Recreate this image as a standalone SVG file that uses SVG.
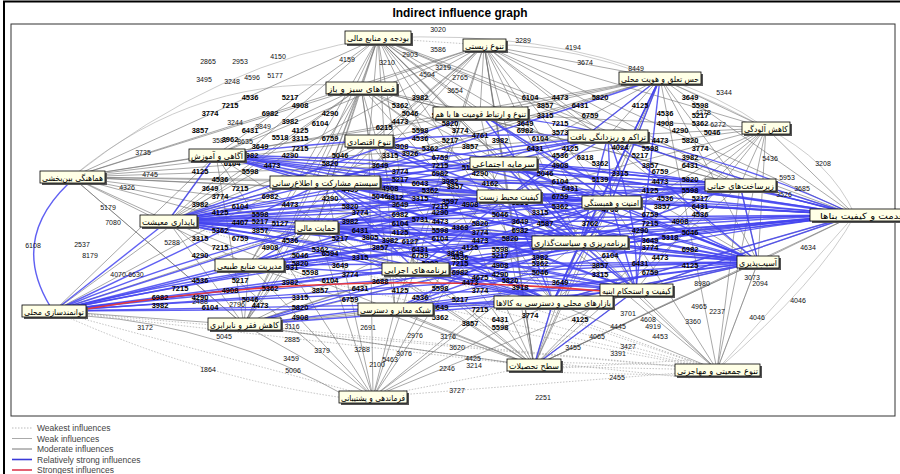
<svg xmlns="http://www.w3.org/2000/svg" width="900" height="474" viewBox="0 0 900 474">
<style>
.m path{stroke:#6e6e6e;stroke-width:.7;fill:none;opacity:.85}
.s path{stroke:#4444f0;stroke-width:1.4;fill:none;opacity:.85}
.r{stroke:#e8383c;stroke-width:1.6;fill:none}
.w path{stroke:#aaa;stroke-width:.7;stroke-dasharray:1.5 1.5;fill:none}
.t path{stroke:#999;stroke-width:.5;fill:none}
.sh{fill:#555}
.bx{fill:#ffffe6;stroke:#000;stroke-width:.8}
.node text{font-family:"DejaVu Sans",sans-serif;font-size:8.5px;text-anchor:middle;fill:#000}
.lb text{font-family:"Liberation Sans",Arial,sans-serif;font-size:7px;fill:#111;text-anchor:middle}
.cl text{font-family:"Liberation Sans",Arial,sans-serif;font-size:7.5px;font-weight:bold;fill:#000;text-anchor:middle}
.lg{font-family:"Liberation Sans",Arial,sans-serif;font-size:8.5px;fill:#444}
</style>
<rect x="0" y="0" width="900" height="474" fill="#fff"/>
<rect x="4" y="1.5" width="905" height="480" fill="none" stroke="#000" stroke-width="2"/>
<text x="460" y="17" font-family="Liberation Sans Narrow,Liberation Sans,Arial,sans-serif" font-size="12" font-weight="bold" text-anchor="middle" textLength="135" lengthAdjust="spacingAndGlyphs">Indirect influence graph</text>
<rect x="11" y="24" width="884" height="392" fill="none" stroke="#333" stroke-width="1"/>
<g id="connectors">
<g class="w">
<path d="M378 38L484 45"/><path d="M717 370L534 366"/><path d="M717 370L373 397"/><path d="M534 366L373 397"/><path d="M717 370L395 309"/><path d="M717 370L244 325"/><path d="M534 366L244 325"/><path d="M717 370L249 265"/><path d="M717 370L168 221"/><path d="M54 311Q206 381 360 400"/><path d="M534 362L717 366"/><path d="M534 372L717 376"/><path d="M560 368L690 360"/><path d="M560 364L690 378"/><path d="M717 370L54 311"/><path d="M534 366L54 311"/><path d="M373 397L54 311"/><path d="M717 370L415 269"/><path d="M717 370L316 227"/>
</g>
<g class="t">
<path d="M660 78Q720 95 766 128"/><path d="M766 128Q830 160 855 215"/><path d="M855 215Q820 280 717 370"/><path d="M758 262L717 370"/><path d="M855 215L717 370"/><path d="M484 45Q600 40 766 128"/><path d="M378 38Q550 30 660 78"/><path d="M361 87Q200 70 72 177"/><path d="M378 38Q220 60 72 177"/>
</g>
<g class="m">
<path d="M378 38L361 87"/><path d="M378 38L369 141"/><path d="M378 38L216 155"/><path d="M378 38L325 182"/><path d="M378 38L168 221"/><path d="M378 38L316 227"/><path d="M378 38L249 265"/><path d="M378 38L415 269"/><path d="M378 38L395 309"/><path d="M378 38L244 325"/><path d="M378 38L509 196"/><path d="M378 38L503 163"/><path d="M378 38L480 113"/><path d="M378 38L611 202"/><path d="M378 38L580 242"/><path d="M378 38L636 290"/><path d="M378 38L553 302"/><path d="M378 38L72 177"/><path d="M378 38L740 185"/><path d="M378 38L608 136"/><path d="M378 38L758 262"/><path d="M378 38L855 215"/><path d="M378 38L534 366"/>
<path d="M484 45L361 87"/><path d="M484 45L369 141"/><path d="M484 45L216 155"/><path d="M484 45L503 163"/><path d="M484 45L480 113"/><path d="M484 45L325 182"/><path d="M484 45L509 196"/><path d="M484 45L611 202"/><path d="M484 45L580 242"/><path d="M484 45L415 269"/><path d="M484 45L553 302"/><path d="M484 45L534 366"/><path d="M484 45L608 136"/><path d="M484 45L660 78"/><path d="M484 45L740 185"/><path d="M484 45L855 215"/><path d="M484 45L766 128"/><path d="M484 45L758 262"/><path d="M484 45L636 290"/><path d="M484 45L168 221"/><path d="M484 45L316 227"/><path d="M484 45L249 265"/><path d="M484 45L72 177"/><path d="M484 45L395 309"/>
<path d="M660 78L766 128"/><path d="M660 78L740 185"/><path d="M660 78L855 215"/><path d="M660 78L758 262"/><path d="M660 78L608 136"/><path d="M660 78L611 202"/><path d="M660 78L509 196"/><path d="M660 78L503 163"/><path d="M660 78L480 113"/><path d="M660 78L553 302"/><path d="M660 78L534 366"/><path d="M660 78L717 370"/><path d="M660 78L369 141"/><path d="M660 78L325 182"/><path d="M660 78L216 155"/><path d="M660 78L168 221"/>
<path d="M361 87L216 155"/><path d="M361 87L72 177"/><path d="M361 87L168 221"/><path d="M361 87L325 182"/><path d="M361 87L316 227"/><path d="M361 87L249 265"/><path d="M361 87L244 325"/><path d="M361 87L395 309"/><path d="M361 87L369 141"/><path d="M361 87L415 269"/><path d="M361 87L54 311"/><path d="M361 87L480 113"/><path d="M361 87L503 163"/><path d="M361 87L509 196"/><path d="M361 87L611 202"/><path d="M361 87L580 242"/><path d="M361 87L553 302"/><path d="M361 87L740 185"/><path d="M361 87L855 215"/>
<path d="M766 128L855 215"/><path d="M766 128L758 262"/><path d="M766 128L740 185"/><path d="M766 128L717 370"/><path d="M766 128L636 290"/><path d="M766 128L580 242"/><path d="M766 128L611 202"/><path d="M766 128L608 136"/><path d="M766 128L509 196"/><path d="M766 128L553 302"/><path d="M766 128L503 163"/><path d="M766 128L480 113"/><path d="M766 128L534 366"/>
<path d="M72 177L216 155"/><path d="M72 177L325 182"/><path d="M72 177L168 221"/><path d="M72 177L316 227"/><path d="M72 177L369 141"/><path d="M72 177L509 196"/><path d="M72 177L503 163"/><path d="M72 177L480 113"/><path d="M72 177L611 202"/><path d="M72 177L580 242"/><path d="M72 177L415 269"/><path d="M72 177L608 136"/><path d="M72 177L740 185"/><path d="M72 177L249 265"/><path d="M72 177L244 325"/>
<path d="M855 215L758 262"/><path d="M855 215L636 290"/><path d="M855 215L580 242"/><path d="M855 215L611 202"/><path d="M855 215L534 366"/><path d="M855 215L553 302"/><path d="M855 215L608 136"/><path d="M855 215L509 196"/>
<path d="M758 262L636 290"/><path d="M758 262L534 366"/><path d="M758 262L553 302"/><path d="M758 262L580 242"/><path d="M758 262L740 185"/>
<path d="M534 366L395 309"/><path d="M534 366L244 325"/><path d="M534 366L249 265"/><path d="M534 366L415 269"/><path d="M534 366L553 302"/><path d="M534 366L636 290"/><path d="M534 366L580 242"/><path d="M534 366L316 227"/><path d="M534 366L325 182"/><path d="M534 366L509 196"/><path d="M534 366L503 163"/><path d="M534 366L480 113"/><path d="M534 366L611 202"/><path d="M534 366L168 221"/><path d="M534 366L740 185"/><path d="M534 366L758 262"/><path d="M534 366L216 155"/><path d="M534 366L369 141"/>
<path d="M717 370L636 290"/><path d="M717 370L553 302"/><path d="M717 370L758 262"/><path d="M717 370L740 185"/><path d="M717 370L580 242"/><path d="M717 370L611 202"/><path d="M717 370L509 196"/>
<path d="M373 397L244 325"/><path d="M373 397L395 309"/><path d="M373 397L249 265"/><path d="M373 397L415 269"/><path d="M373 397L316 227"/><path d="M373 397L325 182"/><path d="M373 397L168 221"/><path d="M373 397L553 302"/><path d="M373 397L636 290"/><path d="M373 397L580 242"/><path d="M373 397L509 196"/><path d="M373 397L369 141"/><path d="M373 397L216 155"/><path d="M373 397L503 163"/><path d="M373 397L611 202"/>
<path d="M244 325L249 265"/><path d="M244 325L168 221"/><path d="M244 325L316 227"/><path d="M244 325L325 182"/><path d="M244 325L216 155"/><path d="M244 325L72 177"/><path d="M244 325L395 309"/><path d="M244 325L415 269"/><path d="M244 325L636 290"/><path d="M244 325L369 141"/><path d="M244 325L509 196"/><path d="M244 325L580 242"/><path d="M244 325L611 202"/>
<path d="M54 311L244 325"/><path d="M54 311L216 155"/><path d="M54 311L369 141"/><path d="M54 311L503 163"/><path d="M86 316Q220 325 350 398"/>
<path d="M168 221L216 155"/><path d="M168 221L369 141"/>
</g>
<g class="s">
<path d="M168 221L325 182"/><path d="M168 221L316 227"/><path d="M168 221L509 196"/><path d="M168 221L611 202"/><path d="M168 221L580 242"/><path d="M168 221L740 185"/><path d="M168 221L855 215"/><path d="M168 221L758 262"/><path d="M168 221L636 290"/><path d="M168 221L553 302"/><path d="M168 221L415 269"/><path d="M168 221L503 163"/><path d="M168 221L608 136"/><path d="M168 221L480 113"/><path d="M168 221L216 155"/>
<path d="M325 182L509 196"/><path d="M325 182L611 202"/><path d="M325 182L580 242"/><path d="M325 182L503 163"/><path d="M325 182L608 136"/><path d="M325 182L740 185"/><path d="M325 182L855 215"/><path d="M325 182L758 262"/><path d="M325 182L636 290"/><path d="M325 182L553 302"/><path d="M325 182L415 269"/>
<path d="M316 227L509 196"/><path d="M316 227L611 202"/><path d="M316 227L580 242"/><path d="M316 227L740 185"/><path d="M316 227L855 215"/><path d="M316 227L758 262"/><path d="M316 227L636 290"/><path d="M316 227L553 302"/><path d="M316 227L503 163"/>
<path d="M509 196L611 202"/><path d="M509 196L580 242"/><path d="M509 196L740 185"/><path d="M509 196L855 215"/><path d="M509 196L758 262"/><path d="M509 196L636 290"/><path d="M509 196L553 302"/><path d="M509 196L608 136"/><path d="M509 196L660 78"/>
<path d="M611 202L580 242"/><path d="M611 202L740 185"/><path d="M611 202L855 215"/><path d="M611 202L758 262"/><path d="M611 202L636 290"/><path d="M611 202L553 302"/><path d="M611 202L660 78"/>
<path d="M580 242L740 185"/><path d="M580 242L855 215"/><path d="M580 242L758 262"/><path d="M580 242L636 290"/><path d="M580 242L553 302"/>
<path d="M503 163L611 202"/><path d="M503 163L580 242"/><path d="M503 163L740 185"/><path d="M503 163L855 215"/><path d="M503 163L758 262"/><path d="M503 163L608 136"/>
<path d="M740 185L855 215"/><path d="M740 185L758 262"/>
<path d="M415 269L580 242"/><path d="M415 269L611 202"/><path d="M415 269L855 215"/><path d="M415 269L758 262"/><path d="M415 269L636 290"/><path d="M415 269L553 302"/><path d="M415 269L509 196"/>
<path d="M249 265L316 227"/><path d="M249 265L509 196"/><path d="M249 265L580 242"/><path d="M249 265L855 215"/><path d="M249 265L758 262"/><path d="M249 265L636 290"/><path d="M249 265L611 202"/>
<path d="M395 309L580 242"/><path d="M395 309L636 290"/><path d="M395 309L758 262"/><path d="M395 309L553 302"/><path d="M395 309L611 202"/>
<path d="M244 325L758 262"/><path d="M244 325L553 302"/>
<path d="M54 311L168 221"/><path d="M54 311L325 182"/><path d="M54 311L316 227"/><path d="M54 311L509 196"/><path d="M54 311L580 242"/><path d="M54 311L415 269"/><path d="M54 311L395 309"/><path d="M54 311L249 265"/><path d="M54 311L553 302"/><path d="M54 311L855 215"/><path d="M54 311L758 262"/><path d="M54 311L611 202"/><path d="M50 306Q10 240 68 184"/>
<path d="M216 155L509 196"/><path d="M216 155L611 202"/><path d="M216 155L580 242"/><path d="M216 155L855 215"/><path d="M216 155L758 262"/><path d="M216 155L740 185"/><path d="M216 155L325 182"/>
<path d="M660 78L580 242"/><path d="M660 78L636 290"/>
<path d="M608 136L580 242"/><path d="M608 136L611 202"/><path d="M608 136L758 262"/><path d="M608 136L855 215"/>
<path d="M553 302L855 215"/><path d="M553 302L758 262"/><path d="M636 290L855 215"/><path d="M636 290L758 262"/>
<path d="M534 366L553 302"/><path d="M534 366L636 290"/>
<path d="M480 113L611 202"/><path d="M480 113L580 242"/><path d="M369 141L509 196"/><path d="M369 141L580 242"/><path d="M369 141L611 202"/>
<path d="M168 221Q500 180 855 215"/><path d="M168 221Q500 250 855 215"/><path d="M168 221Q460 220 758 262"/><path d="M325 182Q600 170 855 215"/><path d="M325 182Q560 200 758 262"/><path d="M316 227Q540 230 758 262"/><path d="M54 311Q450 230 855 215"/><path d="M54 311Q420 270 758 262"/><path d="M54 311Q300 250 580 242"/><path d="M216 155Q540 160 855 215"/><path d="M249 265Q560 220 855 215"/><path d="M415 269Q650 230 855 215"/><path d="M168 221Q420 240 636 290"/><path d="M325 182Q430 250 553 302"/><path d="M316 227Q440 250 553 302"/><path d="M216 155Q400 180 580 242"/><path d="M216 155Q420 210 636 290"/><path d="M503 163Q600 210 636 290"/><path d="M480 113Q700 140 855 215"/><path d="M660 78Q600 200 553 302"/><path d="M608 136Q640 220 636 290"/><path d="M509 196Q640 210 758 262"/><path d="M168 221Q380 210 580 242"/><path d="M168 221Q400 190 611 202"/><path d="M168 221Q340 190 509 196"/><path d="M54 311Q270 220 509 196"/><path d="M54 311Q340 290 636 290"/><path d="M249 265Q420 240 580 242"/><path d="M395 309Q640 240 855 215"/><path d="M244 325Q420 270 580 242"/><path d="M244 325Q560 240 855 215"/><path d="M168 221Q360 160 608 136"/><path d="M216 155Q420 130 608 136"/><path d="M325 182Q480 140 660 78"/><path d="M168 221Q330 240 553 302"/><path d="M369 141Q560 170 740 185"/><path d="M480 113Q600 190 758 262"/><path d="M503 163Q700 170 855 215"/><path d="M415 269Q560 200 740 185"/><path d="M249 265Q450 190 611 202"/>
</g>
<path class="r" d="M86 309Q330 268 602 291"/>
</g>
<g id="edge-labels" class="lb">
<text x="438" y="32">3020</text><text x="523" y="43">3289</text><text x="573" y="50">4194</text><text x="585" y="65">3674</text><text x="438" y="52">3586</text><text x="347" y="62">4159</text><text x="387" y="65">3210</text><text x="410" y="57">2903</text><text x="443" y="70">3219</text><text x="427" y="77">4504</text><text x="460" y="80">2765</text><text x="455" y="93">3654</text><text x="636" y="71">8449</text><text x="724" y="95">5344</text><text x="703" y="115">4278</text><text x="718" y="127">6272</text><text x="770" y="161">5436</text><text x="823" y="166">3208</text><text x="787" y="180">5953</text><text x="802" y="191">3685</text><text x="784" y="197">3526</text>
<text x="208" y="64">2865</text><text x="240" y="64">2953</text><text x="278" y="59">4150</text><text x="204" y="82">3495</text><text x="232" y="84">3248</text><text x="252" y="80">4596</text><text x="275" y="78">5177</text>
<text x="235" y="125">3244</text><text x="263" y="129">3849</text><text x="220" y="143">3587</text><text x="245" y="144">8635</text><text x="143" y="155">3735</text><text x="150" y="177">4745</text><text x="127" y="190">4326</text><text x="108" y="210">5179</text><text x="113" y="225">7080</text><text x="33" y="248">6108</text><text x="82" y="247">2537</text><text x="90" y="258">8179</text><text x="172" y="245">5288</text><text x="127" y="277">4070-6630</text>
<text x="808" y="250">4634</text><text x="798" y="303">4046</text><text x="757" y="320">4046</text><text x="752" y="280">3073</text><text x="760" y="286">2094</text><text x="699" y="309">4965</text><text x="717" y="314">2237</text><text x="693" y="324">3360</text><text x="628" y="316">3701</text><text x="653" y="329">4919</text><text x="660" y="339">4453</text><text x="618" y="329">4445</text><text x="597" y="339">4065</text><text x="648" y="322">4608</text><text x="702" y="286">8980</text>
<text x="145" y="330">3172</text><text x="224" y="339">5045</text><text x="208" y="372">1864</text><text x="292" y="342">2885</text><text x="291" y="361">3459</text><text x="293" y="373">5006</text><text x="200" y="304">2488</text><text x="237" y="307">2796</text>
<text x="322" y="353">3379</text><text x="362" y="352">3288</text><text x="390" y="362">5463</text><text x="377" y="367">2100</text><text x="404" y="356">3076</text><text x="447" y="371">2246</text><text x="474" y="368">3214</text><text x="473" y="361">4425</text><text x="457" y="393">3727</text><text x="543" y="400">2251</text><text x="415" y="338">2976</text><text x="448" y="339">3176</text><text x="457" y="350">3620</text><text x="573" y="350">3455</text><text x="628" y="349">3427</text><text x="618" y="356">3391</text><text x="617" y="380">2455</text><text x="368" y="330">2691</text><text x="292" y="329">3116</text>
</g>
<g id="label-cluster" class="cl">
<text x="250" y="100">4536</text><text x="290" y="100">5217</text><text x="420" y="100">3982</text><text x="530" y="100">6104</text><text x="560" y="100">4473</text><text x="600" y="100">5820</text><text x="690" y="100">3649</text>
<text x="230" y="108">7215</text><text x="300" y="108">4908</text><text x="400" y="108">5362</text><text x="545" y="108">3857</text><text x="580" y="108">6431</text><text x="640" y="108">4125</text><text x="700" y="108">5598</text>
<text x="210" y="116">3774</text><text x="270" y="116">6982</text><text x="330" y="116">4290</text><text x="410" y="116">5046</text><text x="545" y="118">3315</text><text x="590" y="118">6759</text><text x="665" y="116">4536</text><text x="700" y="118">5217</text>
<text x="290" y="124">3982</text><text x="320" y="126">6104</text><text x="400" y="124">4473</text><text x="450" y="126">5820</text><text x="525" y="126">3649</text><text x="560" y="126">7215</text><text x="665" y="126">4908</text><text x="700" y="126">5362</text>
<text x="200" y="133">3857</text><text x="250" y="133">6431</text><text x="300" y="133">4125</text><text x="420" y="133">5598</text><text x="460" y="133">3774</text><text x="525" y="133">6982</text><text x="680" y="133">4290</text><text x="712" y="135">5046</text>
<text x="300" y="141">3315</text><text x="330" y="141">6759</text><text x="420" y="141">4536</text><text x="450" y="143">5217</text><text x="500" y="143">3982</text><text x="540" y="141">6104</text><text x="660" y="143">4473</text><text x="690" y="143">5820</text>
<text x="260" y="149">3649</text><text x="300" y="151">7215</text><text x="400" y="149">4908</text><text x="430" y="151">5362</text><text x="470" y="149">3857</text><text x="535" y="151">6431</text><text x="570" y="151">4125</text><text x="650" y="151">5598</text><text x="700" y="151">3774</text>
<text x="250" y="158">6982</text><text x="290" y="158">4290</text><text x="340" y="158">5046</text><text x="390" y="158">3315</text><text x="440" y="160">6759</text><text x="560" y="158">4536</text><text x="640" y="158">5217</text><text x="690" y="160">3982</text>
<text x="232" y="166">6104</text><text x="272" y="168">4473</text><text x="330" y="166">5820</text><text x="380" y="168">3649</text><text x="440" y="168">7215</text><text x="560" y="168">4908</text><text x="600" y="166">5362</text><text x="650" y="168">3857</text><text x="690" y="168">6431</text>
<text x="200" y="174">4125</text><text x="250" y="174">5598</text><text x="400" y="174">3774</text><text x="440" y="176">6982</text><text x="480" y="176">4290</text><text x="545" y="176">5046</text><text x="620" y="176">3315</text><text x="660" y="174">6759</text>
<text x="220" y="182">4536</text><text x="400" y="182">5217</text><text x="450" y="184">3982</text><text x="560" y="184">6104</text><text x="660" y="184">4473</text><text x="690" y="182">5820</text>
<text x="210" y="191">3649</text><text x="240" y="191">7215</text><text x="390" y="191">4908</text><text x="430" y="193">5362</text><text x="455" y="189">3857</text><text x="570" y="191">6431</text><text x="650" y="193">4125</text><text x="690" y="193">5598</text>
<text x="220" y="199">3774</text><text x="270" y="199">6982</text><text x="330" y="201">4290</text><text x="380" y="199">5046</text><text x="420" y="201">3315</text><text x="560" y="199">6759</text><text x="665" y="201">4536</text><text x="700" y="201">5217</text>
<text x="200" y="207">3982</text><text x="240" y="209">6104</text><text x="290" y="207">4473</text><text x="350" y="209">5820</text><text x="400" y="207">3649</text><text x="440" y="209">7215</text><text x="470" y="207">4908</text><text x="560" y="209">5362</text><text x="662" y="209">3857</text><text x="700" y="209">6431</text>
<text x="220" y="215">4125</text><text x="260" y="217">5598</text><text x="360" y="215">3774</text><text x="400" y="217">6982</text><text x="440" y="215">4290</text><text x="500" y="217">5046</text><text x="540" y="215">3315</text><text x="650" y="217">6759</text><text x="700" y="217">4536</text>
<text x="260" y="224">5217</text><text x="350" y="224">3982</text><text x="400" y="226">6104</text><text x="440" y="224">4473</text><text x="480" y="226">5820</text><text x="520" y="224">3649</text><text x="650" y="226">7215</text><text x="680" y="224">4908</text>
<text x="220" y="233">5362</text><text x="260" y="233">3857</text><text x="360" y="233">6431</text><text x="400" y="235">4125</text><text x="440" y="233">5598</text><text x="480" y="235">3774</text><text x="520" y="233">6982</text><text x="640" y="233">4290</text><text x="690" y="235">5046</text>
<text x="200" y="241">3315</text><text x="240" y="241">6759</text><text x="290" y="243">4536</text><text x="340" y="241">5217</text><text x="390" y="243">3982</text><text x="440" y="241">6104</text><text x="480" y="243">4473</text><text x="510" y="241">5820</text><text x="650" y="243">3649</text>
<text x="220" y="250">7215</text><text x="270" y="250">4908</text><text x="320" y="252">5362</text><text x="380" y="250">3857</text><text x="420" y="252">6431</text><text x="470" y="250">4125</text><text x="500" y="252">5598</text><text x="650" y="250">3774</text><text x="690" y="252">6982</text>
<text x="200" y="258">4290</text><text x="300" y="258">5046</text><text x="360" y="260">3315</text><text x="420" y="258">6759</text><text x="460" y="260">4536</text><text x="500" y="258">5217</text><text x="540" y="260">3982</text><text x="610" y="258">6104</text><text x="660" y="260">4473</text>
<text x="300" y="266">5820</text><text x="340" y="268">3649</text><text x="460" y="266">7215</text><text x="500" y="268">4908</text><text x="540" y="266">5362</text><text x="600" y="268">3857</text><text x="640" y="266">6431</text><text x="690" y="268">4125</text>
<text x="310" y="275">5598</text><text x="350" y="277">3774</text><text x="460" y="275">6982</text><text x="500" y="277">4290</text><text x="540" y="275">5046</text><text x="600" y="277">3315</text><text x="650" y="275">6759</text>
<text x="200" y="283">4536</text><text x="240" y="283">5217</text><text x="290" y="285">3982</text><text x="330" y="283">6104</text><text x="470" y="285">4473</text><text x="510" y="283">5820</text><text x="560" y="285">3649</text>
<text x="180" y="291">7215</text><text x="230" y="293">4908</text><text x="270" y="291">5362</text><text x="320" y="293">3857</text><text x="360" y="291">6431</text><text x="400" y="293">4125</text><text x="440" y="291">5598</text><text x="480" y="293">3774</text>
<text x="160" y="300">6982</text><text x="200" y="300">4290</text><text x="250" y="302">5046</text><text x="300" y="300">3315</text><text x="350" y="302">6759</text><text x="420" y="300">4536</text><text x="460" y="302">5217</text>
<text x="160" y="308">3982</text><text x="210" y="310">6104</text><text x="260" y="308">4473</text><text x="300" y="310">5820</text><text x="440" y="310">3649</text><text x="480" y="312">7215</text>
<text x="300" y="320">4908</text><text x="440" y="320">5362</text><text x="470" y="326">3857</text><text x="500" y="322">6431</text><text x="580" y="322">4125</text><text x="500" y="330">5598</text><text x="530" y="318">3774</text>
<text x="384" y="130">6215</text><text x="440" y="118">5308</text><text x="480" y="138">4761</text><text x="410" y="156">3926</text><text x="470" y="170">5184</text><text x="420" y="186">6043</text><text x="395" y="200">4812</text><text x="450" y="204">3597</text><text x="420" y="222">5731</text><text x="460" y="230">4368</text><text x="410" y="244">6127</text><text x="455" y="256">3849</text><text x="430" y="266">5293</text><text x="480" y="280">4675</text><text x="520" y="290">3918</text><text x="540" y="250">5406</text><text x="520" y="205">6231</text><text x="545" y="226">4587</text><text x="590" y="226">3762</text><text x="600" y="182">5139</text><text x="620" y="150">4024</text><text x="585" y="160">6318</text><text x="360" y="146">5672</text><text x="350" y="192">4459</text><text x="370" y="240">3805</text><text x="330" y="256">6594</text><text x="280" y="226">5127</text><text x="290" y="270">4931</text><text x="380" y="284">3688</text><text x="520" y="164">5450</text><text x="490" y="186">4162</text><text x="560" y="135">3573</text><text x="620" y="250">6089</text><text x="610" y="212">4706</text><text x="670" y="240">5318</text><text x="240" y="225">4407</text><text x="230" y="142">3962</text><text x="280" y="140">5518</text>
</g>
<g id="n1" class="node"><rect class="sh" x="347" y="33" width="66" height="13"/><rect class="bx" x="345" y="31" width="66" height="13"/><text x="378" y="41" textLength="62" lengthAdjust="spacingAndGlyphs">بودجه و منابع مالی</text></g>
<g id="n2" class="node"><rect class="sh" x="465" y="41" width="43" height="12"/><rect class="bx" x="463" y="39" width="43" height="12"/><text x="484.5" y="48.5" textLength="39" lengthAdjust="spacingAndGlyphs">تنوع زیستی</text></g>
<g id="n3" class="node"><rect class="sh" x="621" y="74" width="82" height="12"/><rect class="bx" x="619" y="72" width="82" height="12"/><text x="660" y="81.5" textLength="78" lengthAdjust="spacingAndGlyphs">حس تعلق و هویت محلی</text></g>
<g id="n4" class="node"><rect class="sh" x="328" y="84" width="71" height="12"/><rect class="bx" x="326" y="82" width="71" height="12"/><text x="361.5" y="91.5" textLength="67" lengthAdjust="spacingAndGlyphs">فضاهای سبز و باز</text></g>
<g id="n5" class="node"><rect class="sh" x="435" y="109" width="95" height="12"/><rect class="bx" x="433" y="107" width="95" height="12"/><text x="480.5" y="116.5" textLength="91" lengthAdjust="spacingAndGlyphs">تنوع و ارتباط قومیت ها با هم</text></g>
<g id="n6" class="node"><rect class="sh" x="570" y="132" width="80" height="12"/><rect class="bx" x="568" y="130" width="80" height="12"/><text x="608" y="139.5" textLength="76" lengthAdjust="spacingAndGlyphs">تراکم و ریزدانگی بافت</text></g>
<g id="n7" class="node"><rect class="sh" x="744" y="124" width="48" height="12"/><rect class="bx" x="742" y="122" width="48" height="12"/><text x="766" y="131.5" textLength="44" lengthAdjust="spacingAndGlyphs">کاهش آلودگی</text></g>
<g id="n8" class="node"><rect class="sh" x="347" y="137" width="48" height="12"/><rect class="bx" x="345" y="135" width="48" height="12"/><text x="369" y="144.5" textLength="44" lengthAdjust="spacingAndGlyphs">تنوع اقتصادی</text></g>
<g id="n9" class="node"><rect class="sh" x="191" y="151" width="56" height="12"/><rect class="bx" x="189" y="149" width="56" height="12"/><text x="217" y="158.5" textLength="52" lengthAdjust="spacingAndGlyphs">آگاهی و آموزش</text></g>
<g id="n10" class="node"><rect class="sh" x="42" y="173" width="65" height="12"/><rect class="bx" x="40" y="171" width="65" height="12"/><text x="72.5" y="180.5" textLength="61" lengthAdjust="spacingAndGlyphs">هماهنگی بین‌بخشی</text></g>
<g id="n11" class="node"><rect class="sh" x="472" y="159" width="67" height="12"/><rect class="bx" x="470" y="157" width="67" height="12"/><text x="503.5" y="166.5" textLength="63" lengthAdjust="spacingAndGlyphs">سرمایه اجتماعی</text></g>
<g id="n12" class="node"><rect class="sh" x="272" y="178" width="110" height="12"/><rect class="bx" x="270" y="176" width="110" height="12"/><text x="325" y="185.5" textLength="106" lengthAdjust="spacingAndGlyphs">سیستم مشارکت و اطلاع‌رسانی</text></g>
<g id="n13" class="node"><rect class="sh" x="479" y="192" width="64" height="12"/><rect class="bx" x="477" y="190" width="64" height="12"/><text x="509" y="199.5" textLength="60" lengthAdjust="spacingAndGlyphs">کیفیت محیط زیست</text></g>
<g id="n14" class="node"><rect class="sh" x="707" y="181" width="71" height="12"/><rect class="bx" x="705" y="179" width="71" height="12"/><text x="740.5" y="188.5" textLength="67" lengthAdjust="spacingAndGlyphs">زیرساخت‌های حیاتی</text></g>
<g id="n15" class="node"><rect class="sh" x="584" y="198" width="59" height="12"/><rect class="bx" x="582" y="196" width="59" height="12"/><text x="611.5" y="205.5" textLength="55" lengthAdjust="spacingAndGlyphs">امنیت و همبستگی</text></g>
<g id="n16" class="node"><rect class="sh" x="812" y="211" width="110" height="12"/><rect class="bx" x="810" y="209" width="110" height="12"/><text x="862" y="218.5" textLength="84" lengthAdjust="spacingAndGlyphs">قدمت و کیفیت بناها</text></g>
<g id="n17" class="node"><rect class="sh" x="142" y="217" width="57" height="12"/><rect class="bx" x="140" y="215" width="57" height="12"/><text x="168.5" y="224.5" textLength="53" lengthAdjust="spacingAndGlyphs">پایداری معیشت</text></g>
<g id="n18" class="node"><rect class="sh" x="297" y="223" width="43" height="12"/><rect class="bx" x="295" y="221" width="43" height="12"/><text x="316.5" y="230.5" textLength="39" lengthAdjust="spacingAndGlyphs">حمایت مالی</text></g>
<g id="n19" class="node"><rect class="sh" x="534" y="238" width="96" height="12"/><rect class="bx" x="532" y="236" width="96" height="12"/><text x="580" y="245.5" textLength="92" lengthAdjust="spacingAndGlyphs">برنامه‌ریزی و سیاست‌گذاری</text></g>
<g id="n20" class="node"><rect class="sh" x="217" y="261" width="69" height="12"/><rect class="bx" x="215" y="259" width="69" height="12"/><text x="249.5" y="268.5" textLength="65" lengthAdjust="spacingAndGlyphs">مدیریت منابع طبیعی</text></g>
<g id="n21" class="node"><rect class="sh" x="384" y="265" width="67" height="12"/><rect class="bx" x="382" y="263" width="67" height="12"/><text x="415.5" y="272.5" textLength="63" lengthAdjust="spacingAndGlyphs">برنامه‌های اجرایی</text></g>
<g id="n22" class="node"><rect class="sh" x="739" y="258" width="42" height="12"/><rect class="bx" x="737" y="256" width="42" height="12"/><text x="758" y="265.5" textLength="38" lengthAdjust="spacingAndGlyphs">آسیب‌پذیری</text></g>
<g id="n23" class="node"><rect class="sh" x="602" y="286" width="73" height="12"/><rect class="bx" x="600" y="284" width="73" height="12"/><text x="636.5" y="293.5" textLength="69" lengthAdjust="spacingAndGlyphs">کیفیت و استحکام ابنیه</text></g>
<g id="n24" class="node"><rect class="sh" x="24" y="307" width="64" height="12"/><rect class="bx" x="22" y="305" width="64" height="12"/><text x="54" y="314.5" textLength="60" lengthAdjust="spacingAndGlyphs">توانمندسازی محلی</text></g>
<g id="n25" class="node"><rect class="sh" x="496" y="298" width="119" height="12"/><rect class="bx" x="494" y="296" width="119" height="12"/><text x="553.5" y="305.5" textLength="115" lengthAdjust="spacingAndGlyphs">بازارهای محلی و دسترسی به کالاها</text></g>
<g id="n26" class="node"><rect class="sh" x="360" y="305" width="75" height="12"/><rect class="bx" x="358" y="303" width="75" height="12"/><text x="395.5" y="312.5" textLength="71" lengthAdjust="spacingAndGlyphs">شبکه معابر و دسترسی</text></g>
<g id="n27" class="node"><rect class="sh" x="210" y="320" width="73" height="12"/><rect class="bx" x="208" y="318" width="73" height="12"/><text x="244.5" y="327.5" textLength="69" lengthAdjust="spacingAndGlyphs">کاهش فقر و نابرابری</text></g>
<g id="n28" class="node"><rect class="sh" x="509" y="361" width="54" height="12"/><rect class="bx" x="507" y="359" width="54" height="12"/><text x="534" y="368.5" textLength="50" lengthAdjust="spacingAndGlyphs">سطح تحصیلات</text></g>
<g id="n29" class="node"><rect class="sh" x="677" y="366" width="85" height="12"/><rect class="bx" x="675" y="364" width="85" height="12"/><text x="717.5" y="373.5" textLength="81" lengthAdjust="spacingAndGlyphs">تنوع جمعیتی و مهاجرتی</text></g>
<g id="n30" class="node"><rect class="sh" x="341" y="393" width="68" height="12"/><rect class="bx" x="339" y="391" width="68" height="12"/><text x="373" y="400.5" textLength="64" lengthAdjust="spacingAndGlyphs">فرماندهی و پشتیبانی</text></g>
<g id="legend">
<line x1="12" y1="428" x2="32" y2="428" stroke="#bbb" stroke-width="1" stroke-dasharray="1.5 1.5"/>
<line x1="12" y1="438.5" x2="32" y2="438.5" stroke="#aaa" stroke-width="1"/>
<line x1="12" y1="449" x2="32" y2="449" stroke="#777" stroke-width="1"/>
<line x1="12" y1="459.5" x2="32" y2="459.5" stroke="#3a3ad8" stroke-width="1.6"/>
<line x1="12" y1="470" x2="32" y2="470" stroke="#e05064" stroke-width="1.8"/>
<text class="lg" x="37" y="431">Weakest influences</text>
<text class="lg" x="37" y="441.5">Weak influences</text>
<text class="lg" x="37" y="452">Moderate influences</text>
<text class="lg" x="37" y="462.5">Relatively strong influences</text>
<text class="lg" x="37" y="472.5">Strongest influences</text>
</g>
</svg>
